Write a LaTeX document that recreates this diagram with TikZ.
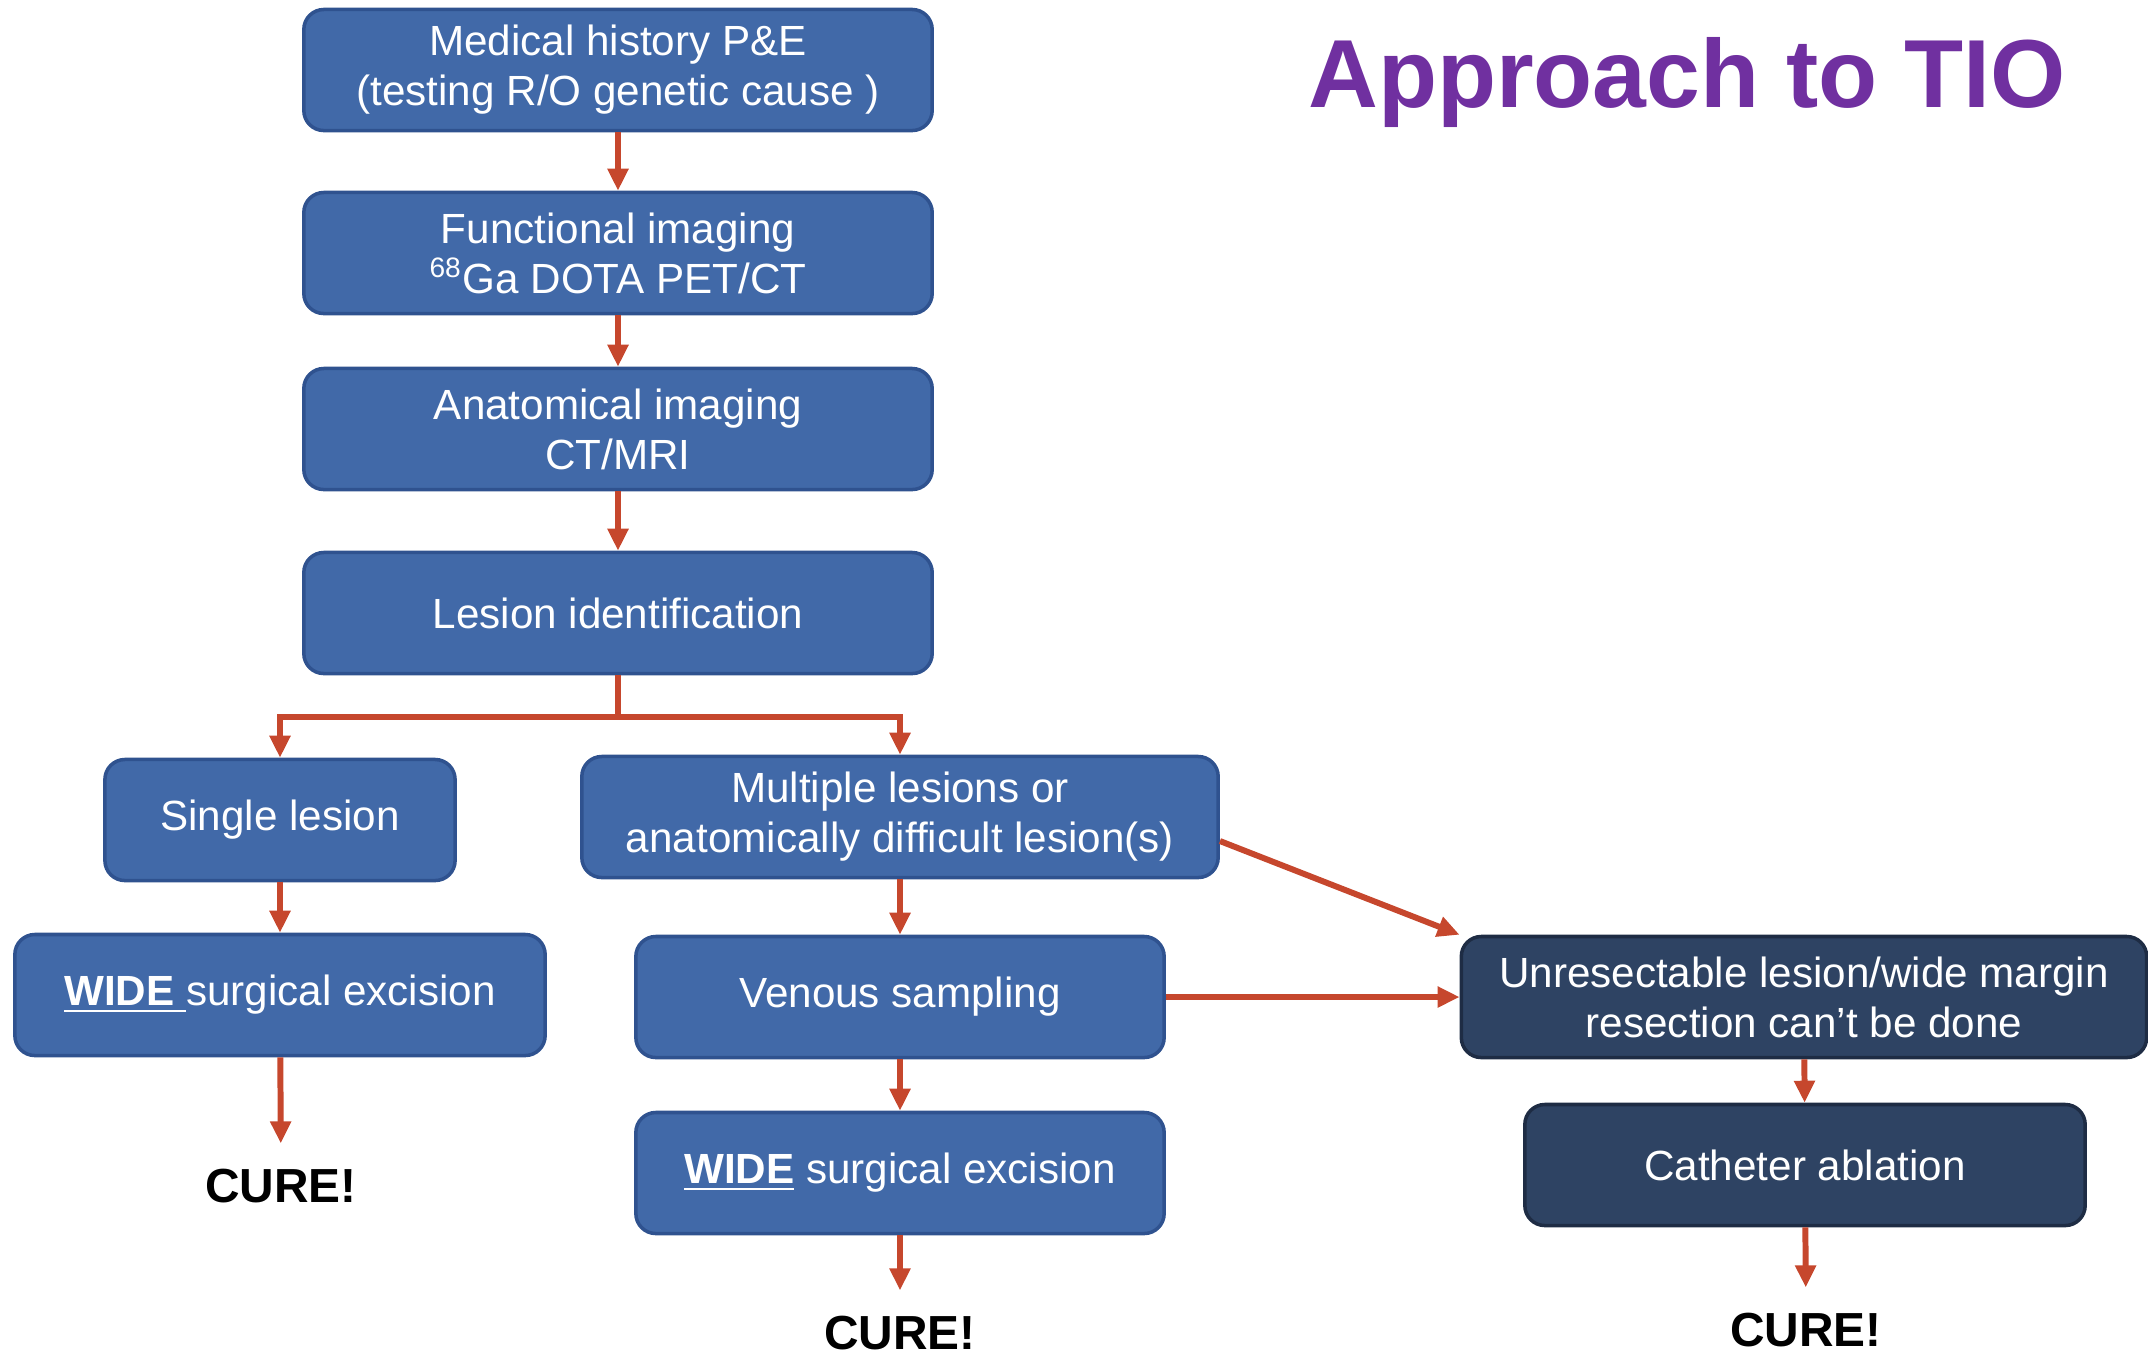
\documentclass[tikz,border=0pt]{standalone}
\usepackage{fontspec}
\setmainfont{Liberation Sans}
\usetikzlibrary{arrows.meta}
\definecolor{boxblue}{HTML}{4169A8}
\definecolor{boxline}{HTML}{2F528F}
\definecolor{boxdark}{HTML}{2E4363}
\definecolor{darkline}{HTML}{1E2C44}
\definecolor{arrred}{HTML}{C6472D}
\definecolor{titlepurple}{HTML}{7030A0}
\tikzset{
  stepbox/.style={draw=boxline, line width=1pt, fill=boxblue, rounded corners=0.2cm, text=white, align=center, minimum height=1.21cm, font=\fontsize{12}{14.2}\selectfont},
  darkbox/.style={stepbox, draw=darkline, fill=boxdark},
  cure/.style={font=\fontsize{13.6}{15}\selectfont\bfseries, inner sep=0.25cm},
  arr/.style={draw=arrred, line width=1.7pt, -{Triangle[length=2.2mm, width=2mm]}}
}
\begin{document}
\begin{tikzpicture}
[x=0.01cm, y=-0.01cm]
\useasboundingbox (0,0) rectangle (2148,1356);
\node [stepbox, minimum width=6.28cm] (med) at (618,70) {Medical history P\&E\\(testing R/O genetic cause )};
\node [stepbox, minimum width=6.28cm] (func) at (618,253) {Functional imaging\\\textsuperscript{68}Ga DOTA PET/CT};
\node [stepbox, minimum width=6.28cm] (anat) at (618,429) {Anatomical imaging\\CT/MRI};
\node [stepbox, minimum width=6.28cm] (lesion) at (618,613) {Lesion identification};
\node [stepbox, minimum width=3.5cm] (single) at (280,820) {Single lesion};
\node [stepbox, minimum width=6.36cm] (multi) at (900,817) {Multiple lesions or\\anatomically difficult lesion(s)};
\node [stepbox, minimum width=5.3cm] (wideA) at (280,995) {\underline{\textbf{WIDE}\ }surgical excision};
\node [stepbox, minimum width=5.28cm] (venous) at (900,997) {Venous sampling};
\node [stepbox, minimum width=5.28cm] (wideB) at (900,1173) {\underline{\textbf{WIDE}} surgical excision};
\node [darkbox, minimum width=6.85cm] (unres) at (1804,997) {Unresectable lesion/wide margin\\resection can’t be done};
\node [darkbox, minimum width=5.6cm] (cath) at (1805,1165) {Catheter ablation};
\node [cure] (cureA) at (281,1186) {CURE!};
\node [cure] (cureB) at (900,1333) {CURE!};
\node [cure] (cureC) at (1806,1330) {CURE!};
\node [text=titlepurple, font=\fontsize{27.5}{30}\selectfont\bfseries] (title) at (1687,82) {Approach to TIO};
\draw [arr] (med) -- (func);
\draw [arr] (func) -- (anat);
\draw [arr] (anat) -- (lesion);
\draw [draw=arrred, line width=1.7pt] (lesion.south) -- ++(0,42) coordinate (split);
\draw [arr] (split) -| (single.north);
\draw [arr] (split) -| (multi.north);
\draw [arr] (single) -- (wideA);
\draw [arr] (wideA) -- (cureA);
\draw [arr] (multi) -- (venous);
\draw [arr] (venous) -- (wideB);
\draw [arr] (wideB) -- (cureB);
\draw [arr] ([yshift=-0.24cm]multi.east) -- (unres.north west);
\draw [arr] (venous) -- (unres);
\draw [arr] (unres) -- (cath);
\draw [arr] (cath) -- (cureC);
\end{tikzpicture}
\end{document}
